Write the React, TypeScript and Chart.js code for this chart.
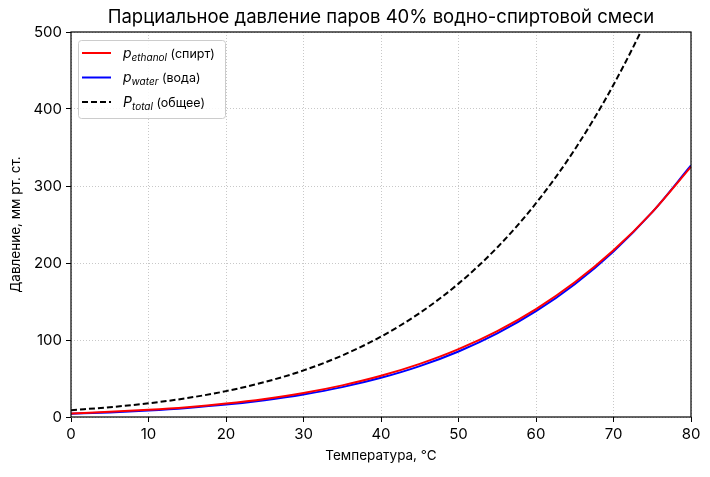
import { Chart, registerables, type ChartConfiguration, type Plugin } from "chart.js";
import { useEffect, useRef } from "react";

Chart.register(...registerables);

const FONT = "Inter, 'DejaVu Sans', sans-serif";

// temperature, °C
const temperatures = [0, 5, 10, 15, 20, 25, 30, 35, 40, 45, 50, 55, 60, 65, 70, 75, 80];
// partial pressures, mm Hg
const ethanolPressure = [4.7, 6.7, 9.3, 12.8, 17.5, 23.5, 31.2, 41.1, 53.5, 69.0, 88.1, 111.6, 140.2, 174.9, 216.5, 266.1, 324.9];
const waterPressure = [4.2, 6.0, 8.5, 11.8, 16.1, 21.9, 29.3, 38.8, 50.9, 66.1, 85.1, 108.6, 137.4, 172.5, 215.0, 266.0, 326.7];
const totalPressure = [8.9, 12.7, 17.8, 24.6, 33.6, 45.4, 60.5, 79.9, 104.4, 135.1, 173.2, 220.2, 277.6, 347.4, 431.5, 532.1, 651.6];

const legendMain = ["p", "p", "P"];
const legendSub = ["ethanol", "water", "total"];
const legendRest = ["(спирт)", "(вода)", "(общее)"];
const seriesColors = ["#ff0000", "#0000ff", "#000000"];
const seriesDash = [[], [], [6, 3]];

const titleText = "Парциальное давление паров 40% водно-спиртовой смеси";

const toPoints = (ys: number[]) => temperatures.map((x, i) => ({ x, y: ys[i] }));

const framePlugin: Plugin<"line"> = {
  id: "frame",
  afterDraw(chart) {
    const { ctx, chartArea } = chart;
    const { left, right, top, bottom } = chartArea;
    ctx.save();
    ctx.strokeStyle = "#000";
    ctx.lineWidth = 1.2;
    ctx.strokeRect(left, top, right - left, bottom - top);

    // title centred over the plot area
    ctx.fillStyle = "#000";
    ctx.font = `18.5px ${FONT}`;
    ctx.textAlign = "center";
    ctx.textBaseline = "middle";
    ctx.fillText(titleText, (left + right) / 2, 17);

    // legend box inside the plot
    const bx = 78.5;
    const by = 40.5;
    const bw = 147;
    const bh = 78;
    ctx.beginPath();
    ctx.roundRect(bx, by, bw, bh, 3);
    ctx.fillStyle = "rgba(255,255,255,0.85)";
    ctx.fill();
    ctx.strokeStyle = "#cccccc";
    ctx.lineWidth = 1;
    ctx.stroke();

    ctx.textAlign = "left";
    ctx.textBaseline = "alphabetic";
    for (let i = 0; i < legendMain.length; i++) {
      const ly = 53 + i * 24.5;
      ctx.beginPath();
      ctx.setLineDash(seriesDash[i]);
      ctx.strokeStyle = seriesColors[i];
      ctx.lineWidth = 2;
      ctx.moveTo(82, ly);
      ctx.lineTo(111, ly);
      ctx.stroke();
      ctx.setLineDash([]);

      ctx.fillStyle = "#000";
      let tx = 123;
      const base = ly + 4.5;
      ctx.font = `italic 14px ${FONT}`;
      ctx.fillText(legendMain[i], tx, base);
      tx += ctx.measureText(legendMain[i]).width;
      ctx.font = `italic 10px ${FONT}`;
      ctx.fillText(legendSub[i], tx, base + 3);
      tx += ctx.measureText(legendSub[i]).width;
      ctx.font = `12.5px ${FONT}`;
      ctx.fillText(" " + legendRest[i], tx, base);
    }
    ctx.restore();
  },
};

const gridStyle = {
  color: "#c8c8c8",
  lineWidth: 1,
  tickColor: "#000",
  tickLength: 5,
  tickWidth: 1,
  tickBorderDash: [],
};

// in Chart.js 4 the dash of the grid lines lives under `border`
const borderStyle = { display: false, dash: [1, 2] };

const config: ChartConfiguration<"line"> = {
  type: "line",
  data: {
    datasets: [
      {
        label: "p_ethanol (спирт)",
        data: toPoints(ethanolPressure),
        borderColor: seriesColors[0],
        borderWidth: 2,
        pointRadius: 0,
        cubicInterpolationMode: "monotone",
      },
      {
        label: "p_water (вода)",
        data: toPoints(waterPressure),
        borderColor: seriesColors[1],
        borderWidth: 2,
        pointRadius: 0,
        cubicInterpolationMode: "monotone",
      },
      {
        label: "P_total (общее)",
        data: toPoints(totalPressure),
        borderColor: seriesColors[2],
        borderWidth: 2,
        borderDash: seriesDash[2],
        pointRadius: 0,
        cubicInterpolationMode: "monotone",
      },
    ],
  },
  options: {
    animation: false,
    responsive: false,
    devicePixelRatio: 1,
    layout: { padding: { top: 32, right: 19, left: 0, bottom: 0 } },
    plugins: {
      legend: { display: false },
      title: { display: false },
      tooltip: { enabled: false },
    },
    scales: {
      x: {
        type: "linear",
        min: 0,
        max: 80,
        ticks: { stepSize: 10, color: "#000", font: { family: FONT, size: 15 }, padding: 3 },
        grid: gridStyle,
        border: borderStyle,
        title: {
          display: true,
          text: "Температура, °C",
          color: "#000",
          font: { family: FONT, size: 13.5 },
          padding: { top: 4, bottom: 13 },
        },
        afterFit(scale) {
          scale.height = 60;
        },
      },
      y: {
        type: "linear",
        min: 0,
        max: 500,
        ticks: { stepSize: 100, color: "#000", font: { family: FONT, size: 15 }, padding: 4 },
        grid: gridStyle,
        border: borderStyle,
        title: {
          display: true,
          text: "Давление, мм рт. ст.",
          color: "#000",
          font: { family: FONT, size: 13.5 },
          padding: { top: 8, bottom: 0 },
        },
        afterFit(scale) {
          scale.width = 71;
        },
      },
    },
  },
  plugins: [framePlugin],
};

export default function App() {
  const canvasRef = useRef<HTMLCanvasElement>(null);

  useEffect(() => {
    document.body.style.margin = "0";
    if (!canvasRef.current) {
      return undefined;
    }
    const chart = new Chart(canvasRef.current, config);
    return () => chart.destroy();
  }, []);

  return (
    <div style={{ width: 710, height: 477, background: "#fff" }}>
      <canvas ref={canvasRef} width={710} height={477} />
    </div>
  );
}
